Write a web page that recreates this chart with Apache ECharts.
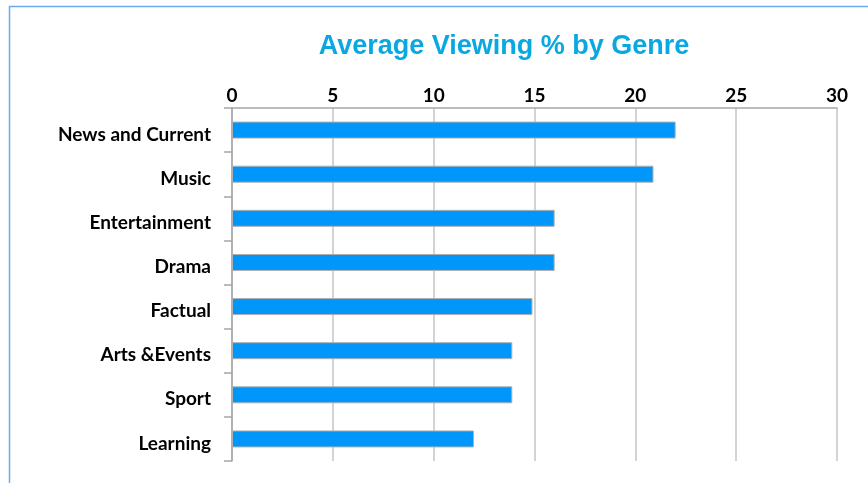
<!DOCTYPE html>
<html>
<head>
<meta charset="utf-8">
<script src="https://cdn.jsdelivr.net/npm/echarts@6/dist/echarts.min.js"></script>
<style>
html,body{margin:0;padding:0;background:#fff;}
#main{width:868px;height:483px;}
</style>
</head>
<body>
<div id="main"></div>
<script>
const categories = ["News and Current", "Music", "Entertainment", "Drama", "Factual", "Arts &Events", "Sport", "Learning"];
const values = [22, 20.9, 16, 16, 14.9, 13.9, 13.9, 12];
const xTicks = [0, 5, 10, 15, 20, 25, 30];

const chart = echarts.init(document.getElementById('main'));
chart.setOption({
  animation: false,
  title: {
    text: 'Average Viewing % by Genre',
    left: 499, top: 28, textAlign: 'center',
    textStyle: {fontFamily: 'Liberation Sans, Arial', fontWeight: 'bold', fontSize: 27, color: '#0aa8e0'}
  },
  graphic: [{
    type: 'rect', shape: {x: 9.5, y: 6.5, width: 900, height: 600},
    style: {fill: 'none', stroke: '#6aabf2', lineWidth: 1.5}, silent: true
  }],
  grid: {left: 232, top: 108, right: 31, bottom: 22},
  xAxis: {
    type: 'value', position: 'top', min: xTicks[0], max: xTicks[xTicks.length-1], interval: 5,
    axisLine: {show: true, lineStyle: {color: '#a6a6a6', width: 1.5}},
    axisTick: {show: false},
    axisLabel: {margin: 3, fontFamily: 'Lato', fontWeight: 'bold', fontSize: 19, color: '#000'},
    splitLine: {show: true, lineStyle: {color: '#c4c4c4', width: 1.5}}
  },
  yAxis: {
    type: 'category', data: categories, inverse: true,
    axisLine: {show: true, lineStyle: {color: '#a6a6a6', width: 1.5}},
    axisTick: {show: true, length: 8, lineStyle: {color: '#a6a6a6', width: 1.5}},
    axisLabel: {margin: 21, verticalAlign: 'top', lineHeight: 9, fontFamily: 'Lato', fontWeight: 'bold', fontSize: 19, color: '#000'}
  },
  series: [{
    type: 'bar', data: values, barWidth: 17,
    itemStyle: {color: '#0096fa', borderColor: '#b0b0b0', borderWidth: 1}
  }]
});
</script>
</body>
</html>
